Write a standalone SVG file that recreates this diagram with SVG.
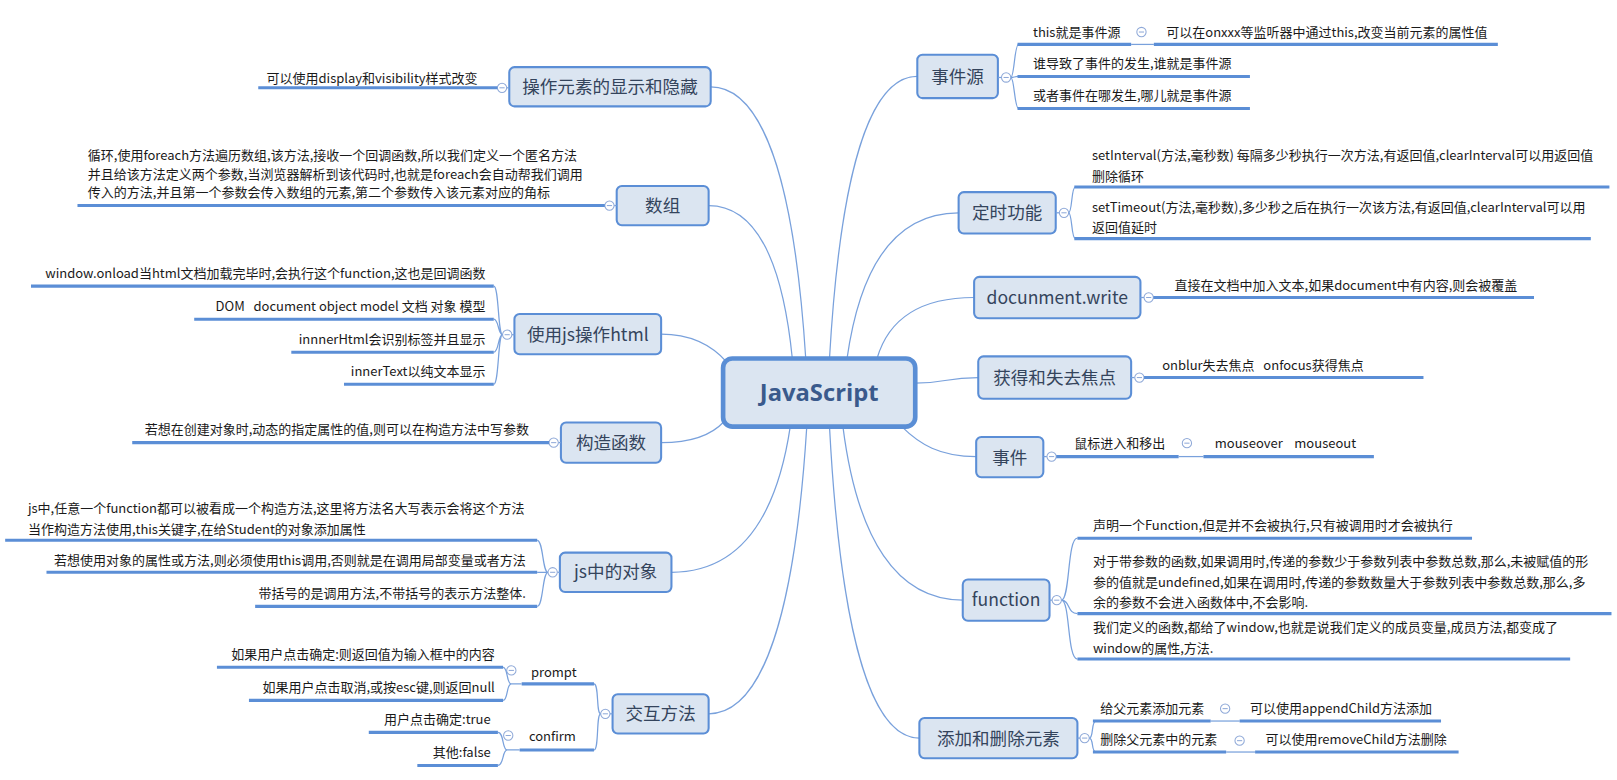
<svg xmlns="http://www.w3.org/2000/svg" width="1617" height="780" viewBox="0 0 1617 780">
<style>
.tb{fill:#dbe5f1;stroke:#5b8ed6;stroke-width:2}
.tt{font-family:"Noto Sans CJK SC","Noto Sans",sans-serif;font-size:17px;fill:#34445c;text-anchor:middle}
.lt{font-family:"Noto Sans CJK SC","Noto Sans",sans-serif;font-size:12.6px;fill:#1a1a1a}
.r{text-anchor:end}
.ul{stroke:#5b8ed6;stroke-width:3;fill:none}
.ln{stroke:#79a1dc;stroke-width:1.2;fill:none}
.cc{fill:#fff;stroke:#8fa9d8;stroke-width:1}
.cm{stroke:#8fa9d8;stroke-width:1}
</style>
<defs>
<g id="col"><circle r="4.5" class="cc"/><line x1="-2.5" x2="2.5" y1="0" y2="0" class="cm"/></g>
</defs>
<rect width="1617" height="780" fill="#fff"/>
<g transform="scale(1.033)">
<g id="connectors">
<path class="ln" d="M688 84 C738.6 84 769 176 780 347"/>
<path class="ln" d="M686 199 C730.5 199 757.3 250.8 767 347"/>
<path class="ln" d="M640 323.5 C670 323.5 690 335 704 351"/>
<path class="ln" d="M640 428.5 C670 428.5 690 420 701 408"/>
<path class="ln" d="M650 554 C713.3 554 751.2 504.7 765 413"/>
<path class="ln" d="M686 691 C738.3 691 769.6 593.7 781 413"/>
<path class="ln" d="M888 74 C841.3 74 813.2 169.6 803 347"/>
<path class="ln" d="M928 206 C868.6 206 833 255.4 820 347"/>
<path class="ln" d="M943 288 C891.3 288 860.3 308.7 849 347"/>
<path class="ln" d="M947 365.5 C915 365.5 915 371 886 371"/>
<path class="ln" d="M945 442 C910 442 890 430 873 413"/>
<path class="ln" d="M932 581 C868.2 581 829.9 522.2 816 413"/>
<path class="ln" d="M890 714.5 C842.2 714.5 813.4 608.7 803 413"/>
</g>

<g id="n-javascript">
<rect x="700" y="347" width="186" height="66" rx="9" fill="#dbe5f1" stroke="#5a8ed5" stroke-width="4.5"/>
<text x="793" y="388" font-family="'Open Sans','Liberation Sans',sans-serif" font-weight="700" font-size="23" fill="#3a5a8c" text-anchor="middle">JavaScript</text>
</g>

<g id="n-show-hide">
<rect class="tb" x="493" y="65" width="195" height="38" rx="5"/>
<text class="tt" x="590.5" y="90">操作元素的显示和隐藏</text>
<line class="ln" x1="490.5" y1="85" x2="493" y2="85"/>
<use href="#col" x="486" y="85"/>
<line class="ul" x1="250" y1="85" x2="481.5" y2="85"/>
<text class="lt" x="258" y="80">可以使用display和visibility样式改变</text>
</g>

<g id="n-array">
<rect class="tb" x="597" y="180" width="89" height="38" rx="5"/>
<text class="tt" x="641.5" y="205">数组</text>
<line class="ln" x1="594.5" y1="199" x2="597" y2="199"/>
<use href="#col" x="590" y="199"/>
<line class="ul" x1="75" y1="199" x2="585.5" y2="199"/>
<text class="lt" x="85" y="155">循环,使用foreach方法遍历数组,该方法,接收一个回调函数,所以我们定义一个匿名方法</text>
<text class="lt" x="85" y="173">并且给该方法定义两个参数,当浏览器解析到该代码时,也就是foreach会自动帮我们调用</text>
<text class="lt" x="85" y="191">传入的方法,并且第一个参数会传入数组的元素,第二个参数传入该元素对应的角标</text>
</g>

<g id="n-js-html">
<rect class="tb" x="498" y="304" width="142" height="39" rx="5"/>
<text class="tt" x="569" y="330">使用js操作html</text>
<line class="ln" x1="495.5" y1="324" x2="498" y2="324"/>
<use href="#col" x="491" y="324"/>
<path class="ln" d="M486.5 324 C482 324 483 277 478 277 M486.5 324 C482 324 483 309 478 309 M486.5 324 C482 324 483 341 478 341 M486.5 324 C482 324 483 372 478 372"/>
<line class="ul" x1="30" y1="277" x2="478" y2="277"/>
<line class="ul" x1="188" y1="309" x2="478" y2="309"/>
<line class="ul" x1="282" y1="341" x2="478" y2="341"/>
<line class="ul" x1="333" y1="372" x2="478" y2="372"/>
<text class="lt r" x="470" y="269">window.onload当html文档加载完毕时,会执行这个function,这也是回调函数</text>
<text class="lt r" x="470" y="301" xml:space="preserve">DOM   document object model 文档 对象 模型</text>
<text class="lt r" x="470" y="333">innnerHtml会识别标签并且显示</text>
<text class="lt r" x="470" y="364">innerText以纯文本显示</text>
</g>

<g id="n-constructor">
<rect class="tb" x="543" y="409" width="97" height="39" rx="5"/>
<text class="tt" x="591.5" y="435">构造函数</text>
<line class="ln" x1="540.5" y1="428.5" x2="543" y2="428.5"/>
<use href="#col" x="536" y="428.5"/>
<line class="ul" x1="128" y1="428.5" x2="531.5" y2="428.5"/>
<text class="lt r" x="512" y="420">若想在创建对象时,动态的指定属性的值,则可以在构造方法中写参数</text>
</g>

<g id="n-objects">
<rect class="tb" x="542" y="535" width="108" height="38" rx="5"/>
<text class="tt" x="596" y="560">js中的对象</text>
<line class="ln" x1="539.5" y1="554" x2="542" y2="554"/>
<use href="#col" x="535" y="554"/>
<path class="ln" d="M530.5 554 C525 554 526 523 520 523 M530.5 554 C525 554 526 554 520 554 M530.5 554 C525 554 526 587 520 587"/>
<line class="ul" x1="5" y1="523" x2="520" y2="523"/>
<line class="ul" x1="45" y1="554" x2="520" y2="554"/>
<line class="ul" x1="247" y1="587" x2="520" y2="587"/>
<text class="lt" x="27" y="497">js中,任意一个function都可以被看成一个构造方法,这里将方法名大写表示会将这个方法</text>
<text class="lt" x="27" y="517">当作构造方法使用,this关键字,在给Student的对象添加属性</text>
<text class="lt r" x="509" y="547">若想使用对象的属性或方法,则必须使用this调用,否则就是在调用局部变量或者方法</text>
<text class="lt r" x="509" y="579">带括号的是调用方法,不带括号的表示方法整体.</text>
</g>

<g id="n-interaction">
<rect class="tb" x="593" y="672" width="93" height="38" rx="5"/>
<text class="tt" x="639.5" y="697">交互方法</text>
<line class="ln" x1="590.5" y1="691" x2="593" y2="691"/>
<use href="#col" x="586" y="691"/>
<path class="ln" d="M581.5 691 C577 691 580 662 575 662 M581.5 691 C577 691 580 726 575 726"/>
<line class="ul" x1="505" y1="662" x2="575" y2="662"/>
<text class="lt" x="514" y="655">prompt</text>
<use href="#col" x="495" y="649"/>
<path class="ln" d="M505 662 L495 662 C490 662 492 646 487 646 M495 662 C490 662 492 678 487 678"/>
<line class="ul" x1="210" y1="646" x2="487" y2="646"/>
<line class="ul" x1="241" y1="678" x2="487" y2="678"/>
<text class="lt r" x="479" y="638">如果用户点击确定:则返回值为输入框中的内容</text>
<text class="lt r" x="479" y="670">如果用户点击取消,或按esc键,则返回null</text>
<line class="ul" x1="503" y1="726" x2="575" y2="726"/>
<text class="lt" x="512" y="717">confirm</text>
<use href="#col" x="492" y="712"/>
<path class="ln" d="M503 726 L491 726 C486 726 488 709 482 709 M491 726 C486 726 488 741 482 741"/>
<line class="ul" x1="357" y1="709" x2="482" y2="709"/>
<line class="ul" x1="404" y1="741" x2="482" y2="741"/>
<text class="lt r" x="475" y="701">用户点击确定:true</text>
<text class="lt r" x="475" y="733">其他:false</text>
</g>

<g id="n-event-source">
<rect class="tb" x="888" y="53" width="78" height="42" rx="5"/>
<text class="tt" x="927" y="80">事件源</text>
<line class="ln" x1="966" y1="75" x2="969.5" y2="75"/>
<use href="#col" x="974" y="75"/>
<path class="ln" d="M978.5 75 C982 75 982 43 986 43 M978.5 75 C982 75 982 74 986 74 M978.5 75 C982 75 982 105 986 105"/>
<line class="ul" x1="985" y1="43" x2="1095" y2="43"/>
<text class="lt" x="1000" y="36">this就是事件源</text>
<line class="ln" x1="1095" y1="43" x2="1117" y2="43"/>
<use href="#col" x="1105" y="31"/>
<line class="ul" x1="1117" y1="43" x2="1450" y2="43"/>
<text class="lt" x="1129" y="36">可以在onxxx等监听器中通过this,改变当前元素的属性值</text>
<line class="ul" x1="985" y1="74" x2="1210" y2="74"/>
<text class="lt" x="1000" y="66">谁导致了事件的发生,谁就是事件源</text>
<line class="ul" x1="985" y1="105" x2="1210" y2="105"/>
<text class="lt" x="1000" y="97">或者事件在哪发生,哪儿就是事件源</text>
</g>

<g id="n-timer">
<rect class="tb" x="928" y="186" width="94" height="40" rx="5"/>
<text class="tt" x="975" y="212">定时功能</text>
<line class="ln" x1="1022" y1="206" x2="1025.5" y2="206"/>
<use href="#col" x="1030" y="206"/>
<path class="ln" d="M1034.5 206 C1038 206 1037 181 1041 181 M1034.5 206 C1038 206 1037 231 1041 231"/>
<line class="ul" x1="1040" y1="181" x2="1558" y2="181"/>
<text class="lt" x="1057" y="155">setInterval(方法,毫秒数) 每隔多少秒执行一次方法,有返回值,clearInterval可以用返回值</text>
<text class="lt" x="1057" y="175">删除循环</text>
<line class="ul" x1="1040" y1="231" x2="1540" y2="231"/>
<text class="lt" x="1057" y="205">setTimeout(方法,毫秒数),多少秒之后在执行一次该方法,有返回值,clearInterval可以用</text>
<text class="lt" x="1057" y="225">返回值延时</text>
</g>

<g id="n-document-write">
<rect class="tb" x="943" y="268" width="161" height="40" rx="5"/>
<text class="tt" x="1023.5" y="294">docunment.write</text>
<line class="ln" x1="1104" y1="288" x2="1107.5" y2="288"/>
<use href="#col" x="1112" y="288"/>
<line class="ul" x1="1116.5" y1="288" x2="1485" y2="288"/>
<text class="lt" x="1137" y="281">直接在文档中加入文本,如果document中有内容,则会被覆盖</text>
</g>

<g id="n-focus">
<rect class="tb" x="947" y="345" width="148" height="41" rx="5"/>
<text class="tt" x="1021" y="372">获得和失去焦点</text>
<line class="ln" x1="1095" y1="365.5" x2="1098.5" y2="365.5"/>
<use href="#col" x="1103" y="365.5"/>
<line class="ul" x1="1107.5" y1="365.5" x2="1378" y2="365.5"/>
<text class="lt" x="1125" y="358" xml:space="preserve">onblur失去焦点   onfocus获得焦点</text>
</g>

<g id="n-event">
<rect class="tb" x="945" y="423" width="65" height="39" rx="5"/>
<text class="tt" x="977.5" y="449">事件</text>
<line class="ln" x1="1010" y1="442" x2="1013.5" y2="442"/>
<use href="#col" x="1018" y="442"/>
<line class="ul" x1="1022.5" y1="442" x2="1141" y2="442"/>
<text class="lt" x="1040" y="434">鼠标进入和移出</text>
<line class="ln" x1="1141" y1="442" x2="1165" y2="442"/>
<use href="#col" x="1149" y="429"/>
<line class="ul" x1="1165" y1="442" x2="1330" y2="442"/>
<text class="lt" x="1176" y="434" xml:space="preserve">mouseover    mouseout</text>
</g>

<g id="n-function">
<rect class="tb" x="932" y="561" width="84" height="40" rx="5"/>
<text class="tt" x="974" y="587">function</text>
<line class="ln" x1="1016" y1="581" x2="1018.5" y2="581"/>
<use href="#col" x="1023" y="581"/>
<path class="ln" d="M1027.5 581 C1036 581 1033 521 1043 521 M1027.5 581 C1036 581 1033 594 1043 594 M1027.5 581 C1036 581 1033 638 1043 638"/>
<line class="ul" x1="1043" y1="521" x2="1425" y2="521"/>
<text class="lt" x="1058" y="513">声明一个Function,但是并不会被执行,只有被调用时才会被执行</text>
<line class="ul" x1="1043" y1="594" x2="1560" y2="594"/>
<text class="lt" x="1058" y="548">对于带参数的函数,如果调用时,传递的参数少于参数列表中参数总数,那么,未被赋值的形</text>
<text class="lt" x="1058" y="568">参的值就是undefined,如果在调用时,传递的参数数量大于参数列表中参数总数,那么,多</text>
<text class="lt" x="1058" y="588">余的参数不会进入函数体中,不会影响.</text>
<line class="ul" x1="1043" y1="638" x2="1520" y2="638"/>
<text class="lt" x="1058" y="612">我们定义的函数,都给了window,也就是说我们定义的成员变量,成员方法,都变成了</text>
<text class="lt" x="1058" y="632">window的属性,方法.</text>
</g>

<g id="n-add-remove">
<rect class="tb" x="890" y="695" width="153" height="39" rx="5"/>
<text class="tt" x="966.5" y="721">添加和删除元素</text>
<line class="ln" x1="1043" y1="714.5" x2="1045.5" y2="714.5"/>
<use href="#col" x="1050" y="714.5"/>
<path class="ln" d="M1054.5 714.5 C1059 714.5 1056 698 1061 698 M1054.5 714.5 C1059 714.5 1056 728 1061 728"/>
<line class="ul" x1="1058" y1="698" x2="1172" y2="698"/>
<text class="lt" x="1065" y="690">给父元素添加元素</text>
<line class="ln" x1="1172" y1="698" x2="1200" y2="698"/>
<use href="#col" x="1186" y="686"/>
<line class="ul" x1="1200" y1="698" x2="1395" y2="698"/>
<text class="lt" x="1210" y="690">可以使用appendChild方法添加</text>
<line class="ul" x1="1058" y1="728" x2="1187" y2="728"/>
<text class="lt" x="1065" y="720">删除父元素中的元素</text>
<line class="ln" x1="1187" y1="728" x2="1215" y2="728"/>
<use href="#col" x="1200" y="717"/>
<line class="ul" x1="1215" y1="728" x2="1412" y2="728"/>
<text class="lt" x="1225" y="720">可以使用removeChild方法删除</text>
</g>
</g>
</svg>
